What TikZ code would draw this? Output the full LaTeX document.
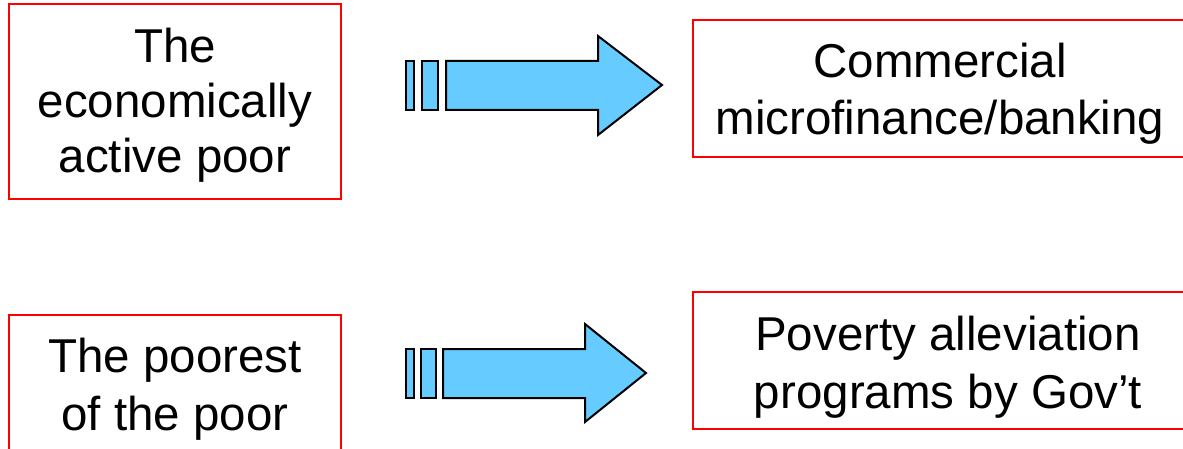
\documentclass[tikz,border=0pt]{standalone}
\usepackage{fontspec}
\setmainfont{Liberation Sans}
\definecolor{arrowblue}{HTML}{66CCFF}
\begin{document}
\begin{tikzpicture}[x=1pt,y=-1pt,
  redbox/.style={draw=red,line width=1.7pt},
  blockarrow/.style={draw=black,fill=arrowblue,line width=2pt,line join=miter},
  txt/.style={anchor=base,inner sep=0pt,align=center,font=\fontsize{47.5}{55}\selectfont},
  txtb/.style={txt,font=\fontsize{47.5}{57.5}\selectfont}]
\useasboundingbox (0,0) rectangle (1183,449);
% boxes (right edges and bottom-left box run past the picture's edge)
\draw[redbox] (9,4) rectangle (341,199);
\draw[redbox] (693,20) rectangle (1195,157);
\draw[redbox] (9,315) rectangle (341,470);
\draw[redbox] (693,292) rectangle (1195,429);
% texts (base anchor = baseline of last line)
\node[txt] (t1) at (175,173) {The\\economically\\active poor};
\node[txtb] (t2) at (940,135) {Commercial\\microfinance/banking};
\node[txtb] (t3) at (175,430) {The poorest\\of the poor};
\node[txtb] (t4) at (948,408) {Poverty alleviation\\programs by Gov’t};
% arrow 1
\draw[blockarrow] (406,61) rectangle (414,110);
\draw[blockarrow] (422,61) rectangle (438,110);
\draw[blockarrow] (446,61) -- (598,61) -- (598,36) -- (662,85) -- (598,135) -- (598,110) -- (446,110) -- cycle;
% arrow 2
\draw[blockarrow] (406,349) rectangle (414,398);
\draw[blockarrow] (421,349) rectangle (436,398);
\draw[blockarrow] (443,349) -- (585,349) -- (585,324) -- (646,373) -- (585,422) -- (585,398) -- (443,398) -- cycle;
\end{tikzpicture}
\end{document}
